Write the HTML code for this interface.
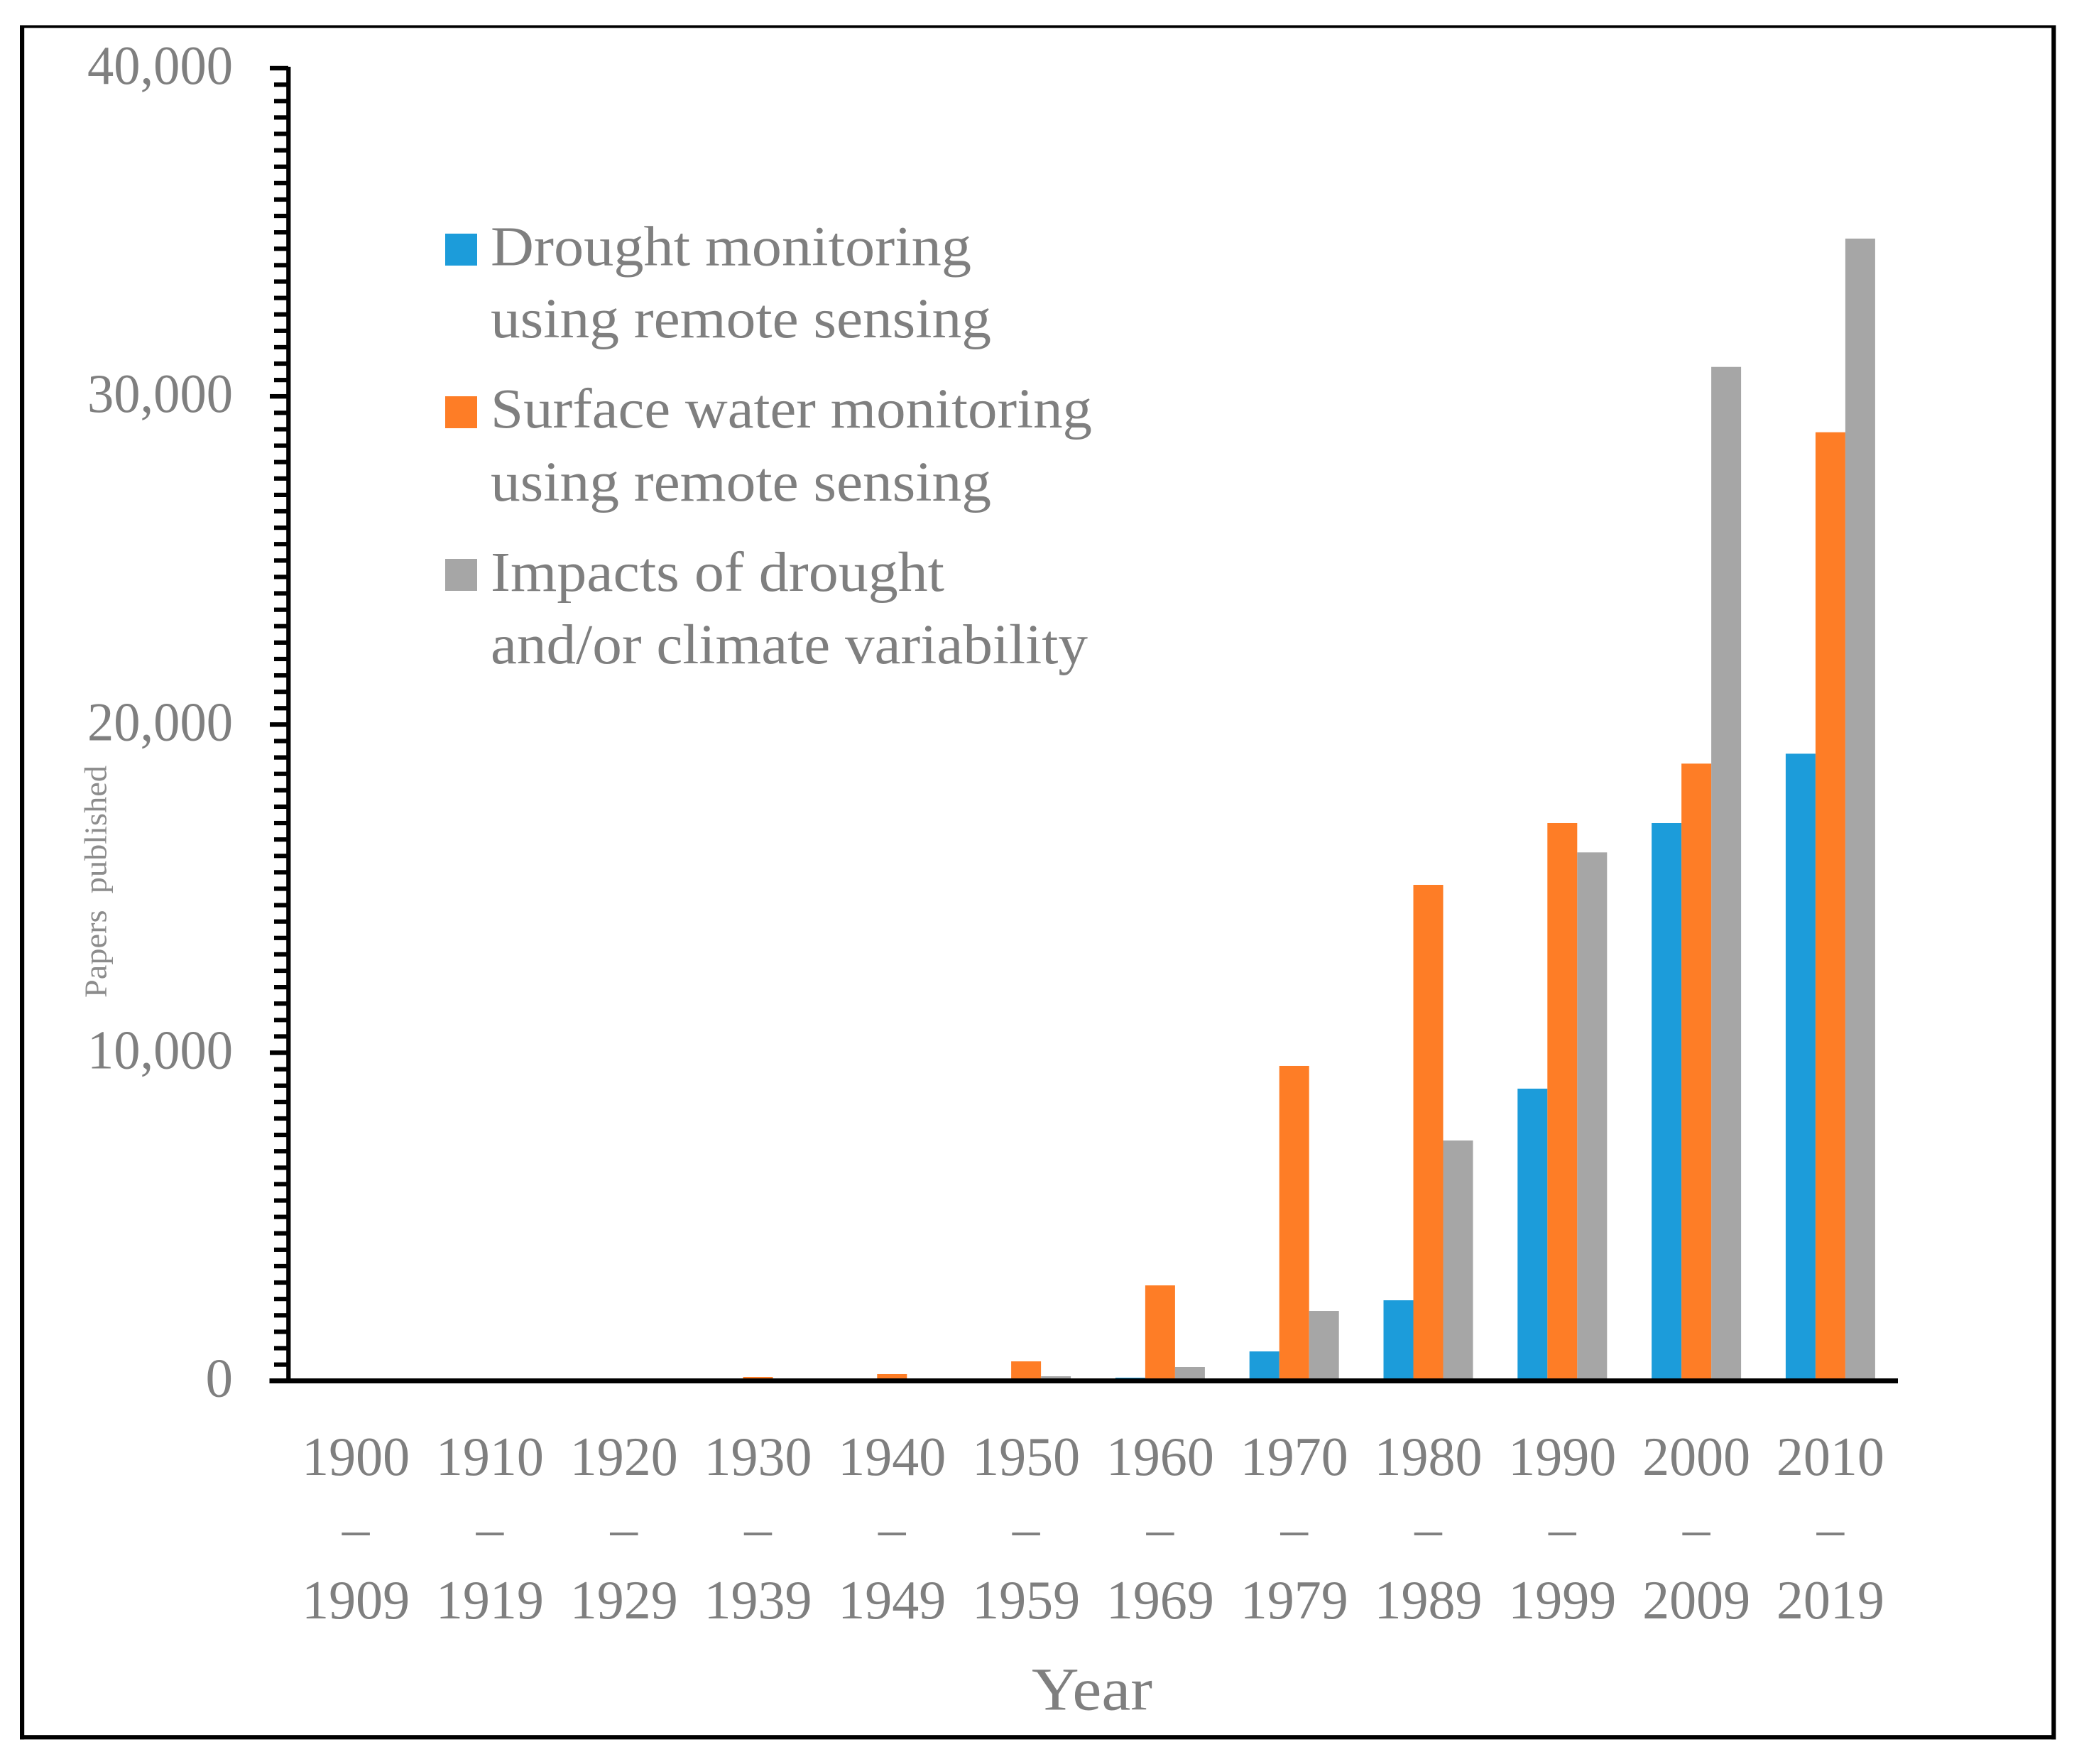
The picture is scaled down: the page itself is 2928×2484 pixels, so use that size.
<!DOCTYPE html>
<html lang="en">
<head>
<meta charset="utf-8">
<title>Papers published per decade</title>
<style>
  html, body { margin: 0; padding: 0; background: #fff; }
  svg { display: block; }
  text { font-family: "Liberation Serif", serif; fill: #7f7f7f; }
</style>
</head>
<body>
<svg id="chart" xmlns="http://www.w3.org/2000/svg" width="2928" height="2484" viewBox="0 0 2928 2484">
  <rect x="0" y="0" width="2928" height="2484" fill="#ffffff"/>
  <g fill="#000">
    <rect x="28" y="35.5" width="2867.5" height="3.8"/>
    <rect x="28" y="35.5" width="6.2" height="2414"/>
    <rect x="2889.3" y="35.5" width="6.2" height="2414"/>
    <rect x="28" y="2443.2" width="2867.5" height="6.2"/>
  </g>
  <g id="bars"></g>
  <g id="axes"></g>
  <text transform="translate(149.3,1405) rotate(-90)" font-size="44" textLength="327" lengthAdjust="spacingAndGlyphs" style="fill:#8c8c8c">Papers&#160;&#160;published</text>
  <text x="1453" y="2407.5" font-size="86" textLength="170" lengthAdjust="spacingAndGlyphs">Year</text>
  <g>
    <g>
      <rect x="627" y="329" width="45" height="45" fill="#1c9cda"/>
      <text x="691" y="373.5" font-size="79" textLength="677" lengthAdjust="spacingAndGlyphs">Drought monitoring</text>
      <text x="691" y="475" font-size="79" textLength="705" lengthAdjust="spacingAndGlyphs">using remote sensing</text>
    </g>
    <g>
      <rect x="627" y="558" width="45" height="45" fill="#fe7d26"/>
      <text x="691" y="602" font-size="79" textLength="847" lengthAdjust="spacingAndGlyphs">Surface water monitoring</text>
      <text x="691" y="705" font-size="79" textLength="705" lengthAdjust="spacingAndGlyphs">using remote sensing</text>
    </g>
    <g>
      <rect x="627" y="787" width="45" height="45" fill="#a6a6a6"/>
      <text x="691" y="832" font-size="79" textLength="639" lengthAdjust="spacingAndGlyphs">Impacts of drought</text>
      <text x="691" y="934" font-size="79" textLength="841" lengthAdjust="spacingAndGlyphs">and/or climate variability</text>
    </g>
  </g>
</svg>
<script>
const decadeStarts = ['1900','1910','1920','1930','1940','1950','1960','1970','1980','1990','2000','2010'];
const decadeEnds = ['1909','1919','1929','1939','1949','1959','1969','1979','1989','1999','2009','2019'];
const droughtMonitoring = [0, 0, 0, 0, 0, 10, 100, 900, 2458, 8906, 16999, 19112];
const surfaceWaterMonitoring = [5, 40, 50, 121, 208, 597, 2912, 9599, 15116, 16999, 18810, 28907];
const droughtImpacts = [0, 0, 5, 20, 40, 143, 424, 2133, 7327, 16105, 30897, 34807];
const yTickLabels = ['0', '10,000', '20,000', '30,000', '40,000'];
const yTickValues = [0, 10000, 20000, 30000, 40000];
const yMax = 40000;
const minorStep = 500;

const SVGNS = 'http://www.w3.org/2000/svg';
const plotLeft = 406.7, groupStep = 188.8, barWidth = 42;
const yZero = 1944.6, yTop = 96;

function yScale(v) { return yZero - (v / yMax) * (yZero - yTop); }
function xCenter(i) { return plotLeft + groupStep * (i + 0.5); }

const barsG = document.getElementById('bars');
const axesG = document.getElementById('axes');

function drawSeries(values, color, offset, key) {
  values.forEach(function (v, i) {
    const r = document.createElementNS(SVGNS, 'rect');
    const top = yScale(v);
    r.setAttribute('x', xCenter(i) + (offset - 0.5) * barWidth);
    r.setAttribute('y', top);
    r.setAttribute('width', barWidth);
    r.setAttribute('height', Math.max(0, yZero - top));
    r.setAttribute('fill', color);
    
    
    barsG.appendChild(r);
  });
}
drawSeries(droughtMonitoring, '#1c9cda', -1, 'drought');
drawSeries(surfaceWaterMonitoring, '#fe7d26', 0, 'surface-water');
drawSeries(droughtImpacts, '#a6a6a6', 1, 'impacts');

// minor ticks
for (let v = minorStep; v < yMax; v += minorStep) {
  if (v % 10000 === 0) continue;
  const t = document.createElementNS(SVGNS, 'rect');
  t.setAttribute('x', 386);
  t.setAttribute('y', yScale(v) - 3);
  t.setAttribute('width', 19);
  t.setAttribute('height', 6.2);
  t.setAttribute('fill', '#000');
  
  
  axesG.appendChild(t);
}

// major ticks and labels
yTickValues.forEach(function (v, i) {
  const t = document.createElementNS(SVGNS, 'rect');
  t.setAttribute('x', 380);
  t.setAttribute('y', yScale(v) - 3.2);
  t.setAttribute('width', 26);
  t.setAttribute('height', 6.4);
  t.setAttribute('fill', '#000');
  
  
  axesG.appendChild(t);

  const l = document.createElementNS(SVGNS, 'text');
  l.setAttribute('x', 328);
  l.setAttribute('y', yScale(v) + 22);
  l.setAttribute('font-size', 77);
  l.setAttribute('text-anchor', 'end');
  if (yTickLabels[i].length > 1) {
    l.setAttribute('textLength', 205);
    l.setAttribute('lengthAdjust', 'spacingAndGlyphs');
  }
  
  
  l.textContent = yTickLabels[i];
  axesG.appendChild(l);
});

// axis lines
const yAxisLine = document.createElementNS(SVGNS, 'rect');
yAxisLine.setAttribute('x', 403.2);
yAxisLine.setAttribute('y', yTop - 2);
yAxisLine.setAttribute('width', 6.2);
yAxisLine.setAttribute('height', yZero - yTop + 2);
yAxisLine.setAttribute('fill', '#000');


axesG.appendChild(yAxisLine);

const xAxisLine = document.createElementNS(SVGNS, 'rect');
xAxisLine.setAttribute('x', 379.5);
xAxisLine.setAttribute('y', 1941);
xAxisLine.setAttribute('width', 2293.5);
xAxisLine.setAttribute('height', 7);
xAxisLine.setAttribute('fill', '#000');


axesG.appendChild(xAxisLine);

// category labels
decadeStarts.forEach(function (s, i) {
  const a = document.createElementNS(SVGNS, 'text');
  a.setAttribute('x', xCenter(i));
  a.setAttribute('y', 2077);
  a.setAttribute('font-size', 77);
  a.setAttribute('text-anchor', 'middle');
  a.setAttribute('textLength', 152);
  a.setAttribute('lengthAdjust', 'spacingAndGlyphs');
  
  
  a.textContent = s;
  axesG.appendChild(a);

  const d = document.createElementNS(SVGNS, 'text');
  d.setAttribute('x', xCenter(i));
  d.setAttribute('y', 2178);
  d.setAttribute('font-size', 77);
  d.setAttribute('text-anchor', 'middle');
  
  
  d.textContent = '\u2013';
  axesG.appendChild(d);

  const b = document.createElementNS(SVGNS, 'text');
  b.setAttribute('x', xCenter(i));
  b.setAttribute('y', 2279);
  b.setAttribute('font-size', 77);
  b.setAttribute('text-anchor', 'middle');
  b.setAttribute('textLength', 152);
  b.setAttribute('lengthAdjust', 'spacingAndGlyphs');
  
  
  b.textContent = decadeEnds[i];
  axesG.appendChild(b);
});
</script>
</body>
</html>
